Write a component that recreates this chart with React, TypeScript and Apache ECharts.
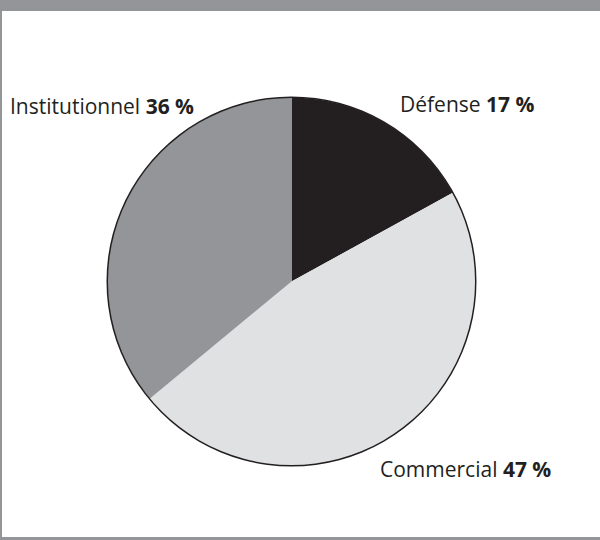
import React, { useEffect, useRef } from "react";
import * as echarts from "echarts";

const categories = ["Défense", "Commercial", "Institutionnel"];
const shares = [17, 47, 36];
const colors = ["#231f20", "#e0e1e3", "#939598"];
const labelSpots: Record<string, { x: number; y: number }> = {
  "Défense": { x: 400, y: 104 },
  "Commercial": { x: 380, y: 469 },
  "Institutionnel": { x: 10, y: 106 },
};

export default function App() {
  const ref = useRef<HTMLDivElement>(null);
  useEffect(() => {
    document.body.style.margin = "0";
    const chart = echarts.init(ref.current!, undefined, { renderer: "svg" });
    const font = "Open Sans";
    chart.setOption({
      animation: false,
      backgroundColor: "#ffffff",
      graphic: [
        { type: "rect", shape: { x: 0, y: 0, width: 600, height: 11 }, style: { fill: "#939598" } },
        { type: "rect", shape: { x: 0, y: 11, width: 2, height: 529 }, style: { fill: "#939598" } },
        { type: "rect", shape: { x: 0, y: 537, width: 600, height: 3 }, style: { fill: "#939598" } },
      ],
      series: [
        {
          type: "pie",
          center: [291.5, 281.5],
          radius: [0, 184],
          startAngle: 90,
          clockwise: true,
          silent: true,
          itemStyle: { borderWidth: 0 },
          data: categories.map((c, i) => ({
            name: c,
            value: shares[i],
            itemStyle: { color: colors[i] },
          })),
          label: {
            show: true,
            position: "outside",
            overflow: "none",
            width: 400,
            formatter: (p: any) => `{n|${p.name} }{b|${p.value} %}`,
            rich: {
              n: { fontFamily: font, fontSize: 21, color: "#231f20" },
              b: { fontFamily: font, fontSize: 21, fontWeight: "bold", color: "#231f20" },
            },
          },
          labelLine: { show: false },
          labelLayout: (params: any) => {
            const name = categories[params.dataIndex];
            const s = labelSpots[name];
            return { x: s.x, y: s.y, align: "left", verticalAlign: "middle" };
          },
        },
        {
          type: "pie",
          center: [291.5, 281.5],
          radius: [183.5, 185],
          silent: true,
          label: { show: false },
          labelLine: { show: false },
          itemStyle: { color: "#231f20", borderWidth: 0 },
          data: [{ name: "contour", value: 1 }],
        },
      ],
    });
    return () => chart.dispose();
  }, []);
  return <div ref={ref} style={{ width: 600, height: 540 }} />;
}
